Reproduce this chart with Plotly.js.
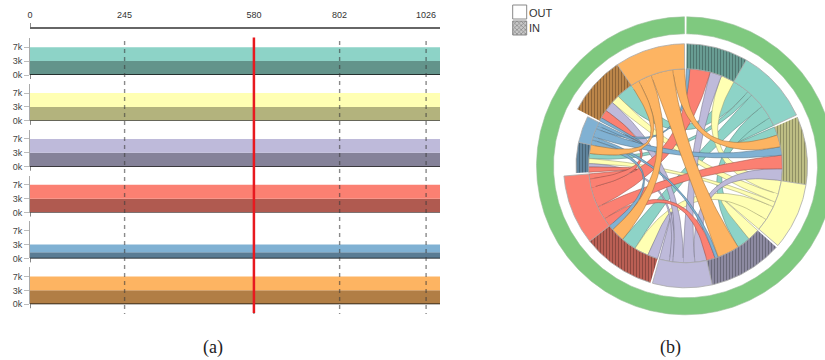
<!DOCTYPE html>
<html>
<head>
<meta charset="utf-8">
<script src="https://cdn.plot.ly/plotly-3.0.1.min.js"></script>
<style>
  html, body { margin: 0; padding: 0; background: #fff; }
  #chart { width: 825px; height: 360px; }
</style>
</head>
<body>
<div id="chart"></div>
<script>
// ---------- data ----------
// time window and axis ticks of the traffic strips
const timeline = [0, 1062];
const timeTicks = [0, 245, 580, 802, 1026];
const timeTickText = ['0', '245', '580', '802', '1026'];
const cursorTime = 580;

// six nodes, same order in both panels (top strip = first node)
const nodeColors = ['#8dd3c7', '#ffffb3', '#bebada', '#fb8072', '#80b1d3', '#fdb462'];
const inVolume  = [3400, 3400, 3400, 3400, 1500, 3400];   // lower (dark) band
const outVolume = [3400, 3400, 3400, 3400, 1900, 3400];   // upper (light) band
const volTicks = [0, 3400, 6800];
const volTickText = ['0k', '3k', '7k'];

// flows[source][target] between the nodes
const flows = [
  [0,  5,  8,  9,   3, 10],
  [8,  0,  7,  8.5, 3,  5],
  [7,  7,  0,  6,   2,  6],
  [12, 8,  5,  0,   3,  5],
  [2,  5,  2,  3,   0,  2],
  [0,  7, 13,  8,   5,  0]
];

// ---------- helpers ----------
const W = 825, H = 360;
const py = p => 1 - p / H;          // pixel row -> paper y
const px = p => p / W;              // pixel column -> paper x
function shade(hex, f) {
  const n = parseInt(hex.slice(1), 16);
  const r = Math.round(((n >> 16) & 255) * f);
  const g = Math.round(((n >> 8) & 255) * f);
  const b = Math.round((n & 255) * f);
  return `rgb(${r},${g},${b})`;
}
const FONT = 'Liberation Sans, Arial, sans-serif';

const traces = [];
const shapes = [];
const annotations = [];
const layout = {
  width: W, height: H,
  margin: { l: 0, r: 0, t: 0, b: 0 },
  paper_bgcolor: '#fff', plot_bgcolor: 'rgba(0,0,0,0)',
  showlegend: false,
  font: { family: FONT, size: 9, color: '#333' }
};

// ---------- (a) traffic strips ----------
layout.xaxis = {
  domain: [px(30), px(440)], range: timeline, side: 'top', anchor: 'free', position: py(28),
  tickvals: timeTicks, ticktext: timeTickText, ticks: '', ticklabelstandoff: 5,
  tickfont: { size: 9, color: '#333', family: FONT },
  showline: true, linecolor: '#666', linewidth: 2,
  showgrid: false, zeroline: false, fixedrange: true
};
shapes.push({ type: 'line', xref: 'x', yref: 'paper', x0: timeline[0], x1: timeline[0],
  y0: py(28), y1: py(23), line: { color: '#666', width: 1.5 } });

const stripStep = 45.85, stripBottom0 = 75, stripHeight = 37, pxPerUnit = 27.8 / 6800;
nodeColors.forEach((c, i) => {
  const yId = i === 0 ? 'y' : 'y' + (i + 1);
  const yKey = i === 0 ? 'yaxis' : 'yaxis' + (i + 1);
  const bottom = stripBottom0 + stripStep * i;
  layout[yKey] = {
    domain: [py(bottom), py(bottom - stripHeight)],
    range: [0, stripHeight / pxPerUnit], anchor: 'x',
    tickvals: volTicks, ticktext: volTickText,
    ticks: 'outside', ticklen: 5, tickcolor: '#bbb', tickwidth: 1,
    tickfont: { size: 9, color: '#444', family: FONT },
    showline: true, linecolor: '#aaa', linewidth: 1,
    showgrid: false, zeroline: false, fixedrange: true
  };
  traces.push({
    type: 'scatter', mode: 'lines', xaxis: 'x', yaxis: yId, stackgroup: 'g' + i,
    x: timeline, y: [inVolume[i], inVolume[i]],
    line: { width: 0 }, fillcolor: shade(c, 0.7), hoverinfo: 'skip'
  });
  traces.push({
    type: 'scatter', mode: 'lines', xaxis: 'x', yaxis: yId, stackgroup: 'g' + i,
    x: timeline, y: [outVolume[i], outVolume[i]],
    line: { width: 0 }, fillcolor: c, hoverinfo: 'skip'
  });
  // baseline of the strip
  shapes.push({ type: 'line', xref: 'x', yref: yId, x0: timeline[0], x1: timeline[1], y0: 0, y1: 0,
    line: { color: '#111', width: 1.3 } });
  shapes.push({ type: 'line', xref: 'x', yref: 'paper', x0: timeline[0], x1: timeline[0],
    y0: py(bottom), y1: py(bottom + 4), line: { color: '#111', width: 1 } });
});

// dashed time grid and the cursor line
timeTicks.slice(1).forEach(t => {
  shapes.push({ type: 'line', xref: 'x', yref: 'paper', x0: t, x1: t, y0: py(41), y1: py(314),
    line: { color: 'rgba(60,60,60,0.6)', width: 1.4, dash: '4px,4px' } });
});
shapes.push({ type: 'line', xref: 'x', yref: 'paper', x0: cursorTime, x1: cursorTime,
  y0: py(37.5), y1: py(313), line: { color: '#e8191f', width: 2.5 } });

// ---------- (b) chord diagram ----------
const cx = 685.5, cy = 165.8;
layout.xaxis2 = { domain: [px(500), 1], range: [500 - cx, W - cx], anchor: 'y7',
  visible: false, fixedrange: true };
layout.yaxis7 = { domain: [py(330), 1], range: [cy - 330, cy], anchor: 'x2',
  visible: false, fixedrange: true };

const n = nodeColors.length;
const gap = 1.0, startAngle = 0.5;
const rChord = 97, bandMax = 25, ringIn = 132, ringOut = 149;
const rowSum = flows.map(r => r.reduce((a, b) => a + b, 0));
const colSum = flows[0].map((_, j) => flows.reduce((a, r) => a + r[j], 0));
const totalVol = nodeColors.map((_, i) => inVolume[i] + outVolume[i]);
const maxVol = Math.max(...totalVol);
const flowTotal = rowSum.reduce((a, b) => a + b, 0) + colSum.reduce((a, b) => a + b, 0);
const degPer = (360 - n * gap) / flowTotal;

const P = (deg, r) => { const a = deg * Math.PI / 180; return [r * Math.sin(a), r * Math.cos(a)]; };
function arc(a0, a1, r) {
  const steps = Math.max(2, Math.ceil(Math.abs(a1 - a0) / 0.8));
  const out = [];
  for (let s = 0; s <= steps; s++) out.push(P(a0 + (a1 - a0) * s / steps, r));
  return out;
}
function bez(p0, p2) {
  const out = [];
  for (let s = 1; s < 40; s++) {
    const t = s / 40, u = 1 - t;
    out.push([u * u * p0[0] + t * t * p2[0], u * u * p0[1] + t * t * p2[1]]);
  }
  return out;
}
function polyTrace(pts, extra) {
  return Object.assign({
    type: 'scatter', mode: 'lines', xaxis: 'x2', yaxis: 'y7', fill: 'toself',
    x: pts.map(p => p[0]), y: pts.map(p => p[1]), hoverinfo: 'skip'
  }, extra);
}

const inSpan = [], outSpan = [], inSub = {}, outSub = {};
let ang = startAngle;
for (let g = 0; g < n; g++) {
  inSpan[g] = [ang, ang + colSum[g] * degPer];
  let a = ang;
  for (let m = n - 1; m >= 1; m--) {
    const s = (g + m) % n, w = flows[s][g] * degPer;
    inSub[s + '-' + g] = [a, a + w]; a += w;
  }
  ang += colSum[g] * degPer;
  outSpan[g] = [ang, ang + rowSum[g] * degPer];
  a = ang;
  for (let m = n - 1; m >= 1; m--) {
    const t = (g + m) % n, w = flows[g][t] * degPer;
    outSub[g + '-' + t] = [a, a + w]; a += w;
  }
  ang += rowSum[g] * degPer + gap;
}

// ribbons, coloured by their source node
for (let s = 0; s < n; s++) {
  for (let t = 0; t < n; t++) {
    if (!flows[s][t]) continue;
    const [sa0, sa1] = outSub[s + '-' + t];
    const [ta0, ta1] = inSub[s + '-' + t];
    const pts = [].concat(
      arc(sa0, sa1, rChord), bez(P(sa1, rChord), P(ta0, rChord)),
      arc(ta0, ta1, rChord), bez(P(ta1, rChord), P(sa0, rChord)));
    traces.push(polyTrace(pts, {
      fillcolor: nodeColors[s], line: { color: shade(nodeColors[s], 0.62), width: 0.55 }
    }));
  }
}

// node arcs: outgoing part plain, incoming part hatched; thickness from total volume
for (let g = 0; g < n; g++) {
  const rOut = rChord + bandMax * totalVol[g] / maxVol;
  const band = (a0, a1) => arc(a0, a1, rOut).concat(arc(a1, a0, rChord));
  traces.push(polyTrace(band(outSpan[g][0], outSpan[g][1]), {
    fillcolor: nodeColors[g], line: { color: '#aaa', width: 0.8 }
  }));
  traces.push(polyTrace(band(inSpan[g][0], inSpan[g][1]), {
    fillcolor: shade(nodeColors[g], 0.72), line: { color: '#aaa', width: 0.8 },
    fillpattern: { shape: '|', bgcolor: shade(nodeColors[g], 0.74),
      fgcolor: shade(nodeColors[g], 0.5), size: 3, solidity: 0.25 }
  }));
}

// outer ring
traces.push(polyTrace(arc(0.4, 359.6, ringOut).concat(arc(359.6, 0.4, ringIn)), {
  fillcolor: '#7fc97f', line: { color: '#9bbf9b', width: 0.6 }
}));

// legend boxes
const box = (x0, x1, y0, y1) => [[x0, y0], [x1, y0], [x1, y1], [x0, y1], [x0, y0]];
traces.push(polyTrace(box(512.7 - cx, 526.7 - cx, cy - 5, cy - 19), {
  fillcolor: '#fff', line: { color: '#888', width: 1 }
}));
traces.push(polyTrace(box(512.7 - cx, 526.7 - cx, cy - 21, cy - 35), {
  fillcolor: '#bbb', line: { color: '#888', width: 1 },
  fillpattern: { shape: 'x', bgcolor: '#c8c8c8', fgcolor: '#777', size: 3, solidity: 0.35 }
}));
annotations.push({ xref: 'x2', yref: 'y7', x: 526.7 - cx, y: cy - 12.5, text: 'OUT',
  showarrow: false, xanchor: 'left', yanchor: 'middle', font: { family: FONT, size: 11, color: '#333' } });
annotations.push({ xref: 'x2', yref: 'y7', x: 526.7 - cx, y: cy - 28, text: 'IN',
  showarrow: false, xanchor: 'left', yanchor: 'middle', font: { family: FONT, size: 11, color: '#333' } });

// panel captions
annotations.push({ xref: 'paper', yref: 'paper', x: px(213), y: py(347), text: '(a)', showarrow: false,
  xanchor: 'center', yanchor: 'middle', font: { family: 'Liberation Serif, serif', size: 18, color: '#222' } });
annotations.push({ xref: 'paper', yref: 'paper', x: px(670), y: py(347), text: '(b)', showarrow: false,
  xanchor: 'center', yanchor: 'middle', font: { family: 'Liberation Serif, serif', size: 18, color: '#222' } });

layout.shapes = shapes;
layout.annotations = annotations;

Plotly.newPlot('chart', traces, layout, { staticPlot: true, displayModeBar: false });
</script>
</body>
</html>
